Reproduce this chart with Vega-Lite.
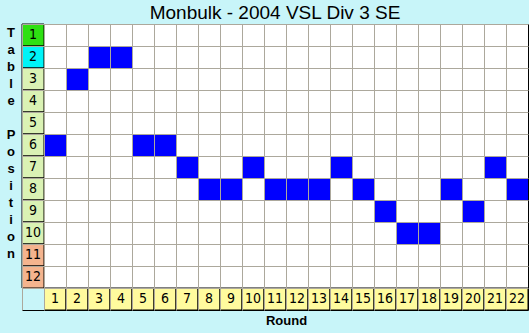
{
  "$schema": "https://vega.github.io/schema/vega-lite/v6.json",
  "width": 506,
  "height": 286,
  "autosize": {"type": "none"},
  "padding": {"left": 22, "top": 24, "right": 1, "bottom": 23},
  "background": "#c8f5f9",
  "title": {
    "text": "Monbulk - 2004 VSL Div 3 SE",
    "font": "Liberation Sans",
    "fontSize": 19,
    "fontWeight": "normal",
    "color": "#000000",
    "anchor": "middle",
    "frame": "group",
    "offset": 1
  },
  "config": {
    "view": {"stroke": "#000000", "strokeWidth": 1, "fill": "#ffffff"}
  },
  "datasets": {
    "results": [
      {"round": 1, "position": 6}, {"round": 2, "position": 3}, {"round": 3, "position": 2},
      {"round": 4, "position": 2}, {"round": 5, "position": 6}, {"round": 6, "position": 6},
      {"round": 7, "position": 7}, {"round": 8, "position": 8}, {"round": 9, "position": 8},
      {"round": 10, "position": 7}, {"round": 11, "position": 8}, {"round": 12, "position": 8},
      {"round": 13, "position": 8}, {"round": 14, "position": 7}, {"round": 15, "position": 8},
      {"round": 16, "position": 9}, {"round": 17, "position": 10}, {"round": 18, "position": 10},
      {"round": 19, "position": 8}, {"round": 20, "position": 9}, {"round": 21, "position": 7},
      {"round": 22, "position": 8}
    ],
    "positions": [
      {"position": 1, "zone": "Premier"}, {"position": 2, "zone": "Promotion"},
      {"position": 3, "zone": "Mid"}, {"position": 4, "zone": "Mid"}, {"position": 5, "zone": "Mid"},
      {"position": 6, "zone": "Mid"}, {"position": 7, "zone": "Mid"}, {"position": 8, "zone": "Mid"},
      {"position": 9, "zone": "Mid"}, {"position": 10, "zone": "Mid"},
      {"position": 11, "zone": "Relegation"}, {"position": 12, "zone": "Relegation"}
    ],
    "rounds": [
      {"round": 1}, {"round": 2}, {"round": 3}, {"round": 4}, {"round": 5}, {"round": 6},
      {"round": 7}, {"round": 8}, {"round": 9}, {"round": 10}, {"round": 11}, {"round": 12},
      {"round": 13}, {"round": 14}, {"round": 15}, {"round": 16}, {"round": 17}, {"round": 18},
      {"round": 19}, {"round": 20}, {"round": 21}, {"round": 22}
    ]
  },
  "layer": [
    {
      "data": {"name": "rounds"},
      "mark": {"type": "rect", "fill": "#fffb9e", "stroke": "#000000", "strokeWidth": 1},
      "encoding": {
        "x": {
          "field": "round", "type": "ordinal",
          "scale": {"type": "band", "domain": [0,1,2,3,4,5,6,7,8,9,10,11,12,13,14,15,16,17,18,19,20,21,22], "paddingInner": 0, "paddingOuter": 0},
          "axis": {
            "title": "Round", "orient": "bottom", "labels": false, "ticks": false, "domain": false,
            "grid": true, "bandPosition": 0, "gridColor": "#aca89c", "gridWidth": 1,
            "titleFont": "Liberation Sans", "titleFontSize": 13, "titleFontWeight": "bold", "titleColor": "#000000",
            "titleX": 264, "titleY": 10, "titleBaseline": "middle", "titleAlign": "center"
          }
        },
        "y": {
          "datum": 13, "type": "ordinal",
          "scale": {"type": "band", "domain": [1,2,3,4,5,6,7,8,9,10,11,12,13], "paddingInner": 0, "paddingOuter": 0},
          "axis": {
            "title": null,
            "orient": "left", "labels": false, "ticks": false, "domain": false,
            "grid": true, "bandPosition": 0, "gridColor": "#aca89c", "gridWidth": 1
          }
        }
      }
    },
    {
      "data": {"values": [{"label": "Table"}]},
      "mark": {"type": "text", "font": "Liberation Sans", "fontSize": 13, "fontWeight": "bold", "color": "#000000", "baseline": "top", "align": "center", "lineHeight": 17, "dx": -11, "dy": 3},
      "encoding": {
        "x": {"datum": 0, "type": "ordinal", "bandPosition": 0},
        "y": {"datum": 1, "type": "ordinal", "bandPosition": 0},
        "text": {"value": ["T","a","b","l","e"]}
      }
    },
    {
      "data": {"values": [{"label": "Position"}]},
      "mark": {"type": "text", "font": "Liberation Sans", "fontSize": 13, "fontWeight": "bold", "color": "#000000", "baseline": "top", "align": "center", "lineHeight": 17, "dx": -11, "dy": -5},
      "encoding": {
        "x": {"datum": 0, "type": "ordinal", "bandPosition": 0},
        "y": {"datum": 6, "type": "ordinal", "bandPosition": 0},
        "text": {"value": ["P","o","s","i","t","i","o","n"]}
      }
    },
    {
      "data": {"name": "rounds"},
      "mark": {"type": "text", "font": "Liberation Sans Narrow, DejaVu Sans Condensed, Liberation Sans", "fontSize": 14, "color": "#000000", "baseline": "middle", "align": "center"},
      "encoding": {
        "x": {"field": "round", "type": "ordinal"},
        "y": {"datum": 13, "type": "ordinal"},
        "text": {"field": "round", "type": "ordinal"}
      }
    },
    {
      "data": {"name": "positions"},
      "mark": {"type": "rect", "stroke": "#000000", "strokeWidth": 1},
      "encoding": {
        "x": {"datum": 0, "type": "ordinal"},
        "y": {"field": "position", "type": "ordinal"},
        "fill": {
          "field": "zone", "type": "nominal", "legend": null,
          "scale": {"domain": ["Premier", "Promotion", "Mid", "Relegation"], "range": ["#2ee012", "#00f4f8", "#daf2b4", "#f4b48e"]}
        }
      }
    },
    {
      "data": {"name": "positions"},
      "mark": {"type": "text", "font": "Liberation Sans Narrow, DejaVu Sans Condensed, Liberation Sans", "fontSize": 14, "color": "#000000", "baseline": "middle", "align": "center"},
      "encoding": {
        "x": {"datum": 0, "type": "ordinal"},
        "y": {"field": "position", "type": "ordinal"},
        "text": {"field": "position", "type": "ordinal"}
      }
    },
    {
      "data": {"values": [{"corner": "blank"}]},
      "mark": {"type": "rect", "fill": "#c8f5f9", "strokeWidth": 0},
      "encoding": {
        "x": {"datum": 0, "type": "ordinal"},
        "y": {"datum": 13, "type": "ordinal"}
      }
    },
    {
      "data": {"name": "results"},
      "mark": {"type": "rect", "fill": "#0000ff", "strokeWidth": 0},
      "encoding": {
        "x": {"field": "round", "type": "ordinal"},
        "y": {"field": "position", "type": "ordinal"}
      }
    }
  ]
}
